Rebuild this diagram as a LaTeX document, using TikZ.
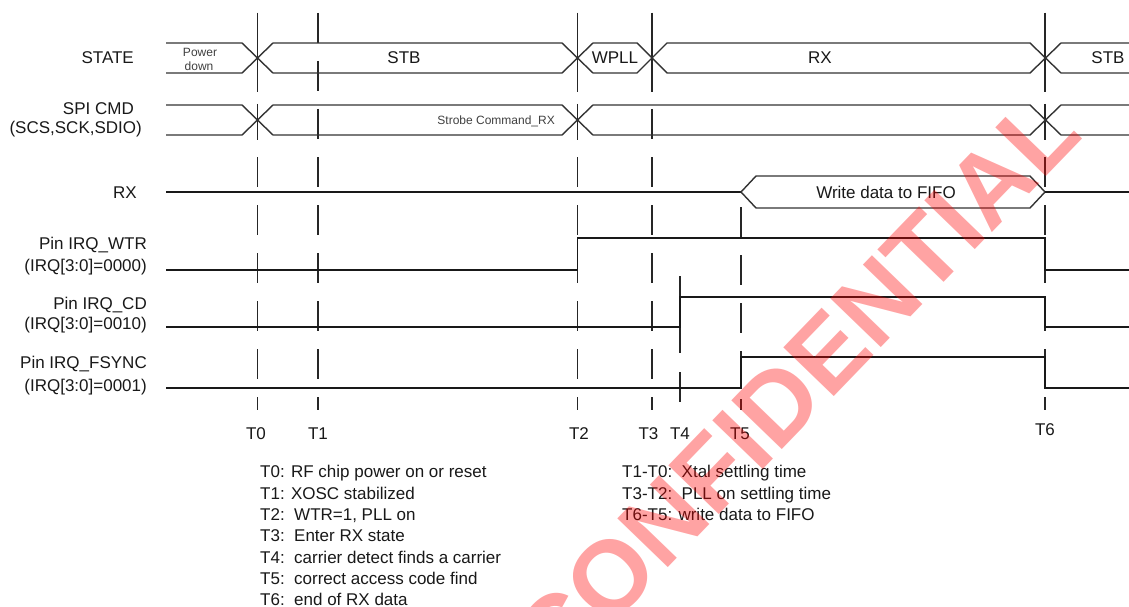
\documentclass[tikz,border=0pt]{standalone}
\usepackage{fontspec}
\setmainfont{Liberation Sans}
\begin{document}
\begin{tikzpicture}[x=1pt,y=-1pt,
  bus/.style={line width=1.4pt, black!80, line join=miter},
  sig/.style={line width=1.4pt, black!90},
  tdash/.style={line width=1.5pt, black!85, dash pattern=on 30pt off 18pt},
  tsolid/.style={line width=1.5pt, black!85},
  lbl/.style={font=\fontsize{17}{20}\selectfont, inner sep=0pt, text=black!90},
  smalltxt/.style={font=\fontsize{12}{14}\selectfont, inner sep=0pt, text=black!75},
  note/.style={font=\fontsize{17}{21}\selectfont, inner sep=0pt, anchor=base west, text=black!90},
  wmark/.style={font=\fontsize{102}{110}\selectfont\bfseries, inner sep=0pt, text=red, opacity=0.36, rotate=46}
]
\useasboundingbox (0,0) rectangle (1129,607);
\fill[white] (0,0) rectangle (1129,607);
\clip (0,0) rectangle (1129,607);

% ---------- time marker lines ----------
\foreach \x in {257.5,318,577.5,652,1045}{
  \draw[tdash] (\x,13) -- (\x,410);
}
\draw[tdash] (741,207) -- (741,410);
% continuous parts through the bus crossings
\foreach \x in {257.5,577.5,652,1045}{
  \draw[tsolid] (\x,13) -- (\x,92);
}
\foreach \x in {257.5,577.5,1045}{
  \draw[tsolid] (\x,104) -- (\x,140);
}
% T4 marker
\draw[tsolid] (680,276) -- (680,353);
\draw[tsolid] (680,372) -- (680,402);

% ---------- STATE bus ----------
\draw[bus] (166,43) -- (242,43) -- (273,73) -- (562,73) -- (593,43) -- (637,43) -- (667,73) -- (1030,73) -- (1061,43) -- (1129,43);
\draw[bus] (166,73) -- (242,73) -- (273,43) -- (562,43) -- (593,73) -- (637,73) -- (667,43) -- (1030,43) -- (1061,73) -- (1129,73);

% ---------- SPI CMD bus ----------
\draw[bus] (166,105) -- (242,105) -- (273,135) -- (562,135) -- (593,105) -- (1030,105) -- (1061,135) -- (1129,135);
\draw[bus] (166,135) -- (242,135) -- (273,105) -- (562,105) -- (593,135) -- (1030,135) -- (1061,105) -- (1129,105);

% ---------- RX ----------
\draw[sig] (166,192) -- (741,192);
\draw[bus] (741,192) -- (756,176) -- (1030,176) -- (1045,192) -- (1030,208) -- (756,208) -- cycle;
\draw[sig] (1045,192) -- (1129,192);

% ---------- IRQ pins ----------
\draw[sig] (166,270) -- (577.5,270) -- (577.5,238) -- (1045,238) -- (1045,270) -- (1129,270);
\draw[sig] (166,327) -- (680,327) -- (680,297) -- (1045,297) -- (1045,327) -- (1129,327);
\draw[sig] (166,388) -- (741,388) -- (741,357) -- (1045,357) -- (1045,388) -- (1129,388);

% ---------- row labels ----------
\node[lbl, anchor=base east] (lState) at (134,64) {STATE};
\node[lbl, anchor=base east] (lSpi) at (134,114) {SPI CMD};
\node[lbl, anchor=base east] (lSpi2) at (142,134) {(SCS,SCK,SDIO)};
\node[lbl, anchor=base east] (lRx) at (137,198) {RX};
\node[lbl, anchor=base east] (lWtr) at (147,249) {Pin IRQ\_WTR};
\node[lbl, anchor=base east] (lWtr2) at (147,271) {(IRQ[3:0]=0000)};
\node[lbl, anchor=base east] (lCd) at (147,309) {Pin IRQ\_CD};
\node[lbl, anchor=base east] (lCd2) at (147,329) {(IRQ[3:0]=0010)};
\node[lbl, anchor=base east] (lFs) at (147,368) {Pin IRQ\_FSYNC};
\node[lbl, anchor=base east] (lFs2) at (147,391) {(IRQ[3:0]=0001)};

% ---------- bus contents ----------
\node[smalltxt, anchor=base] (sPow) at (200,56.5) {Power};
\node[smalltxt, anchor=base] (sDown) at (199,70.5) {down};
\node[lbl, anchor=base] (sStb) at (404,64) {STB};
\node[lbl, anchor=base] (sWpll) at (615,64) {WPLL};
\node[lbl, anchor=base] (sRx) at (820,64) {RX};
\node[lbl, anchor=base] (sStb2) at (1108,64) {STB};
\node[smalltxt, anchor=base east] (sStrobe) at (555,124.5) {Strobe Command\_RX};
\node[lbl, anchor=base] (sFifo) at (886,198) {Write data to FIFO};

% ---------- time labels ----------
\node[lbl, anchor=base] (t0) at (256,439) {T0};
\node[lbl, anchor=base] (t1) at (318,439) {T1};
\node[lbl, anchor=base] (t2) at (579,439) {T2};
\node[lbl, anchor=base] (t3) at (648.5,439) {T3};
\node[lbl, anchor=base] (t4) at (680,439) {T4};
\node[lbl, anchor=base] (t5) at (740,439) {T5};
\node[lbl, anchor=base] (t6) at (1045,435) {T6};

% ---------- notes ----------
\node[note] (n0) at (260,477) {T0: RF chip power on or reset};
\node[note] (n1) at (260,499) {T1: XOSC stabilized};
\node[note] (n2) at (260,520) {T2:\ \ WTR=1, PLL on};
\node[note] (n3) at (260,541) {T3:\ \ Enter RX state};
\node[note] (n4) at (260,563) {T4:\ \ carrier detect finds a carrier};
\node[note] (n5) at (260,584) {T5:\ \ correct access code find};
\node[note] (n6) at (260,605) {T6:\ \ end of RX data};
\node[note] (m1) at (622,477) {T1-T0:\ \ Xtal settling time};
\node[note] (m2) at (622,499) {T3-T2:\ \ PLL on settling time};
\node[note] (m3) at (622,520) {T6-T5: write data to FIFO};

% ---------- watermark ----------
\node[wmark] (wm) at (796,385) {CONFIDENTIAL};
\end{tikzpicture}
\end{document}
